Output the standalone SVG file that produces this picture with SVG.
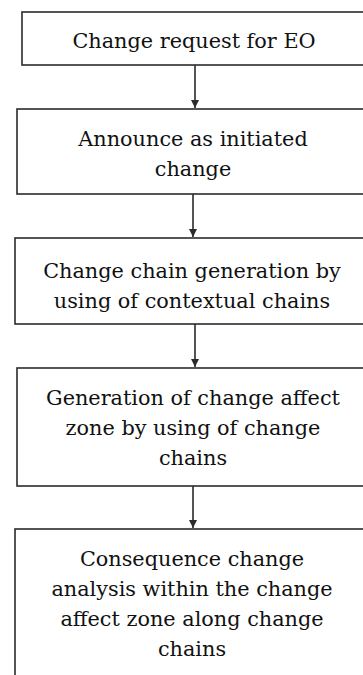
<svg xmlns="http://www.w3.org/2000/svg" width="363" height="675" viewBox="0 0 363 675">
  <style>
    .box { fill: #ffffff; stroke: #2b2b2b; stroke-width: 1.6; }
    .lbl { font-family: "DejaVu Serif", "Liberation Serif", serif; font-size: 20.8px; fill: #111111; text-anchor: middle; }
    .link { stroke: #2b2b2b; stroke-width: 1.6; fill: none; marker-end: url(#arrow); }
  </style>
  <defs>
    <marker id="arrow" viewBox="0 0 8 10" refX="8" refY="5" markerWidth="8" markerHeight="10" markerUnits="userSpaceOnUse" orient="auto">
      <path d="M0,1 L8,5 L0,9 z" fill="#2b2b2b"/>
    </marker>
  </defs>
  <rect width="363" height="675" fill="#ffffff"/>

  <g id="connectors">
    <line class="link" x1="195" y1="65" x2="195" y2="108"/>
    <line class="link" x1="193" y1="194" x2="193" y2="237"/>
    <line class="link" x1="195" y1="324" x2="195" y2="367"/>
    <line class="link" x1="193" y1="486" x2="193" y2="528"/>
  </g>

  <g id="change-request">
    <rect class="box" x="22" y="12" width="360" height="53"/>
    <text class="lbl" x="194" y="48">Change request for EO</text>
  </g>

  <g id="announce">
    <rect class="box" x="17" y="109" width="360" height="85"/>
    <text class="lbl" x="193" y="146">Announce as initiated</text>
    <text class="lbl" x="193" y="176">change</text>
  </g>

  <g id="chain-generation">
    <rect class="box" x="15" y="238" width="360" height="86"/>
    <text class="lbl" x="192" y="278">Change chain generation by</text>
    <text class="lbl" x="192" y="308">using of contextual chains</text>
  </g>

  <g id="affect-zone">
    <rect class="box" x="17" y="368" width="360" height="118"/>
    <text class="lbl" x="193" y="405">Generation of change affect</text>
    <text class="lbl" x="193" y="435">zone by using of change</text>
    <text class="lbl" x="193" y="465">chains</text>
  </g>

  <g id="consequence-analysis">
    <rect class="box" x="15" y="529" width="360" height="160"/>
    <text class="lbl" x="192" y="566">Consequence change</text>
    <text class="lbl" x="192" y="596">analysis within the change</text>
    <text class="lbl" x="192" y="626">affect zone along change</text>
    <text class="lbl" x="192" y="656">chains</text>
  </g>
</svg>
